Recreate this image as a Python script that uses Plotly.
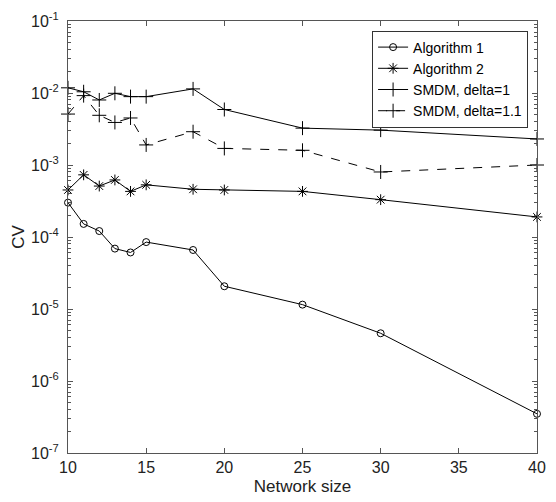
import plotly.graph_objects as go

network_size = [10, 11, 12, 13, 14, 15, 18, 20, 25, 30, 40]
algorithm1 = [3.0e-4, 1.52e-4, 1.21e-4, 6.9e-5, 6.1e-5, 8.5e-5, 6.6e-5, 2.07e-5, 1.15e-5, 4.6e-6, 3.5e-7]
algorithm2 = [4.5e-4, 7.3e-4, 5.1e-4, 6.2e-4, 4.3e-4, 5.3e-4, 4.6e-4, 4.5e-4, 4.3e-4, 3.3e-4, 1.9e-4]
smdm_delta1 = [1.18e-2, 1.04e-2, 8.0e-3, 9.9e-3, 8.9e-3, 8.9e-3, 1.14e-2, 5.9e-3, 3.25e-3, 3.05e-3, 2.3e-3]
smdm_delta11 = [5.1e-3, 9.2e-3, 4.9e-3, 3.9e-3, 4.5e-3, 1.9e-3, 2.9e-3, 1.7e-3, 1.6e-3, 8.0e-4, 1.0e-3]

x_ticks = [10, 15, 20, 25, 30, 35, 40]
y_tickvals = [1e-7, 1e-6, 1e-5, 1e-4, 1e-3, 1e-2, 1e-1]
y_ticktext = ["10<sup>-7</sup>", "10<sup>-6</sup>", "10<sup>-5</sup>", "10<sup>-4</sup>",
              "10<sup>-3</sup>", "10<sup>-2</sup>", "10<sup>-1</sup>"]

FONT = "Liberation Sans, Arial, sans-serif"

fig = go.Figure()
series = [
    ("Algorithm 1", algorithm1, "circle-open", "solid", 7),
    ("Algorithm 2", algorithm2, "asterisk-open", "solid", 9),
    ("SMDM, delta=1", smdm_delta1, "cross-thin-open", "solid", 10),
    ("SMDM, delta=1.1", smdm_delta11, "cross-thin-open", "dash", 10),
]
for name, ys, sym, dash, size in series:
    fig.add_trace(go.Scatter(
        x=network_size, y=ys, name=name, mode="lines+markers", cliponaxis=False,
        line=dict(color="black", width=1, dash=dash),
        marker=dict(symbol=sym, size=size, color="black", line=dict(color="black", width=1)),
    ))

axis_common = dict(
    showline=True, linecolor="#555", linewidth=1, mirror="allticks",
    ticks="inside", ticklen=5, tickcolor="#555", showgrid=False, zeroline=False,
    tickfont=dict(family=FONT, size=16, color="#222"),
)
fig.update_xaxes(range=[10, 40], tickvals=x_ticks, **axis_common,
                 title=dict(text="Network size", standoff=4,
                            font=dict(family=FONT, size=17, color="#222")))
fig.update_yaxes(type="log", range=[-7, -1], tickvals=y_tickvals, ticktext=y_ticktext,
                 minor=dict(ticks="inside", ticklen=3, dtick="D1", tickcolor="#555", showgrid=False),
                 ticklabelstandoff=5,
                 **axis_common,
                 title=dict(text="CV", standoff=2,
                            font=dict(family=FONT, size=17, color="#222")))

fig.update_layout(
    width=556, height=502,
    margin=dict(l=68, r=10, t=14, b=38),
    paper_bgcolor="white", plot_bgcolor="white",
    showlegend=True,
    legend=dict(x=0.981, y=0.978, xanchor="right", yanchor="top",
                bordercolor="#333", borderwidth=1, bgcolor="white",
                font=dict(family=FONT, size=14, color="black"),
                tracegroupgap=0, itemwidth=30),
)

fig.write_html("out.html")
